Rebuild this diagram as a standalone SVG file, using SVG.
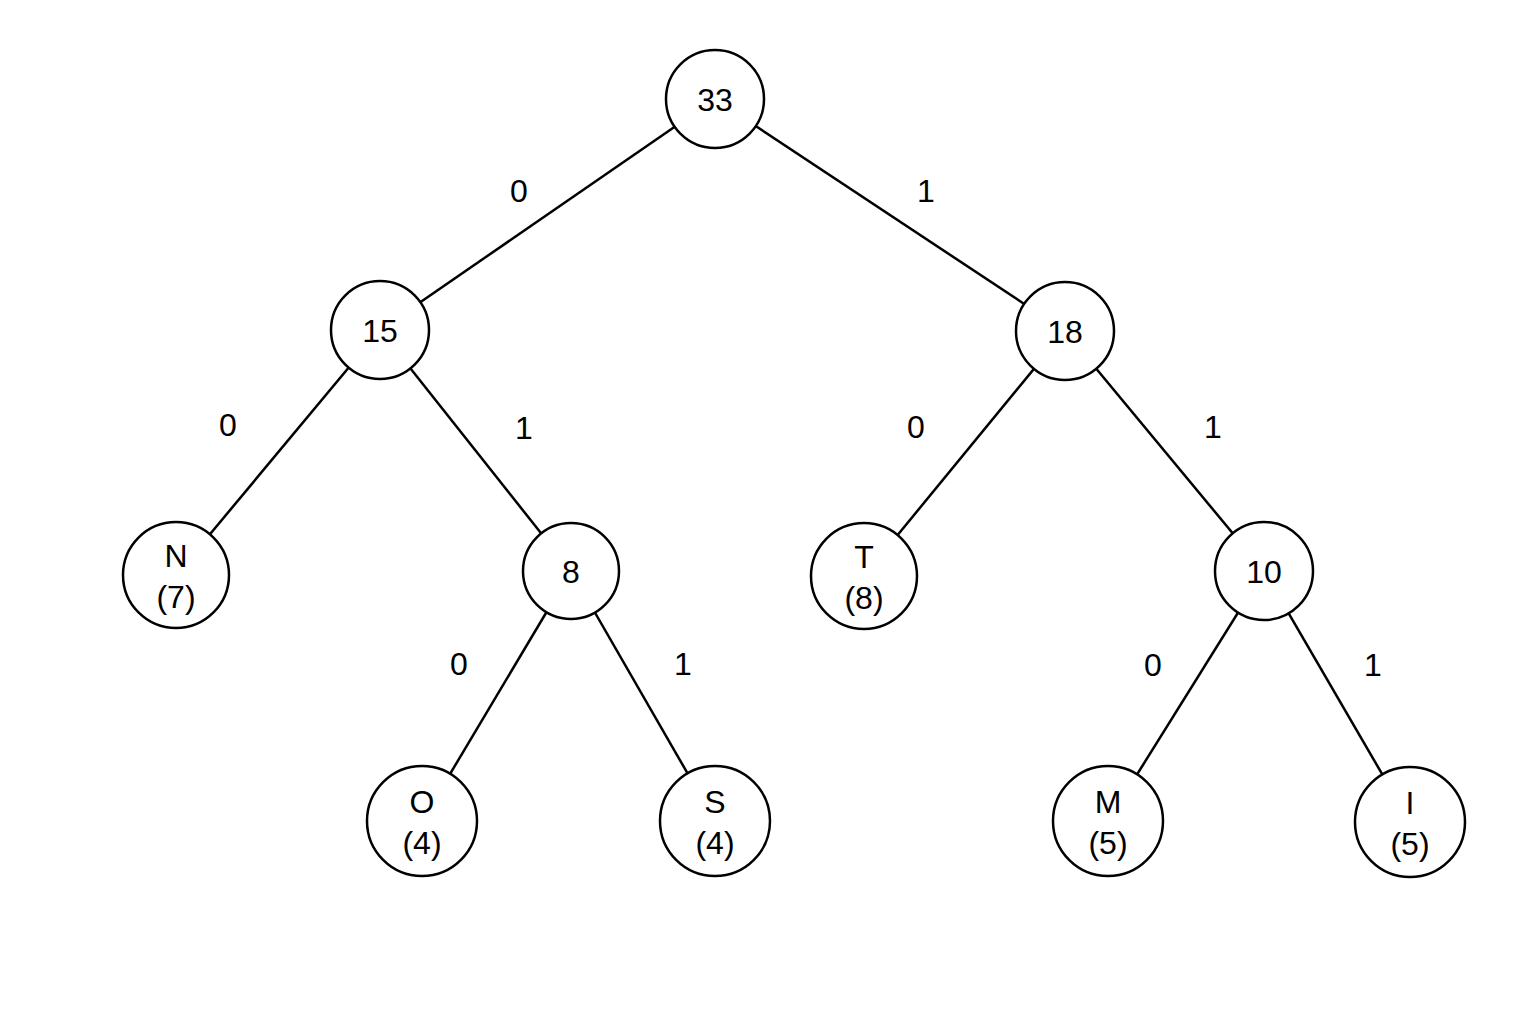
<svg xmlns="http://www.w3.org/2000/svg" width="1536" height="1024" viewBox="0 0 1536 1024">
<style>
.n{fill:#fff;stroke:#000;stroke-width:2.5}
.e{stroke:#000;stroke-width:2.5}
text{font-family:"Liberation Sans",Arial,sans-serif;font-size:32px;fill:#000;text-anchor:middle;dominant-baseline:central}
</style>
<rect width="1536" height="1024" fill="#fff"/>
<g id="edges">
<line class="e" x1="715" y1="99" x2="380" y2="330"/>
<line class="e" x1="715" y1="99" x2="1065" y2="331"/>
<line class="e" x1="380" y1="330" x2="176" y2="575"/>
<line class="e" x1="380" y1="330" x2="571" y2="571"/>
<line class="e" x1="1065" y1="331" x2="864" y2="576"/>
<line class="e" x1="1065" y1="331" x2="1264" y2="571"/>
<line class="e" x1="571" y1="571" x2="422" y2="821"/>
<line class="e" x1="571" y1="571" x2="715" y2="821"/>
<line class="e" x1="1264" y1="571" x2="1108" y2="821"/>
<line class="e" x1="1264" y1="571" x2="1410" y2="822"/>
<text x="519" y="191">0</text><text x="926" y="191">1</text>
<text x="228" y="425">0</text><text x="524" y="428">1</text>
<text x="916" y="427">0</text><text x="1213" y="427">1</text>
<text x="459" y="664">0</text><text x="683" y="664">1</text>
<text x="1153" y="665">0</text><text x="1373" y="665">1</text>
</g>
<g id="n33"><circle class="n" cx="715" cy="99" r="49"/><text x="715" y="100">33</text></g>
<g id="n15"><circle class="n" cx="380" cy="330" r="49"/><text x="380" y="331">15</text></g>
<g id="n18"><circle class="n" cx="1065" cy="331" r="49"/><text x="1065" y="332">18</text></g>
<g id="nN"><circle class="n" cx="176" cy="575" r="53"/><text x="176" y="556">N</text><text x="176" y="597">(7)</text></g>
<g id="n8"><circle class="n" cx="571" cy="571" r="48"/><text x="571" y="572">8</text></g>
<g id="nT"><circle class="n" cx="864" cy="576" r="53"/><text x="864" y="557">T</text><text x="864" y="598">(8)</text></g>
<g id="n10"><circle class="n" cx="1264" cy="571" r="49"/><text x="1264" y="572">10</text></g>
<g id="nO"><circle class="n" cx="422" cy="821" r="55"/><text x="422" y="802">O</text><text x="422" y="843">(4)</text></g>
<g id="nS"><circle class="n" cx="715" cy="821" r="55"/><text x="715" y="802">S</text><text x="715" y="843">(4)</text></g>
<g id="nM"><circle class="n" cx="1108" cy="821" r="55"/><text x="1108" y="802">M</text><text x="1108" y="843">(5)</text></g>
<g id="nI"><circle class="n" cx="1410" cy="822" r="55"/><text x="1410" y="803">I</text><text x="1410" y="844">(5)</text></g>
</svg>
